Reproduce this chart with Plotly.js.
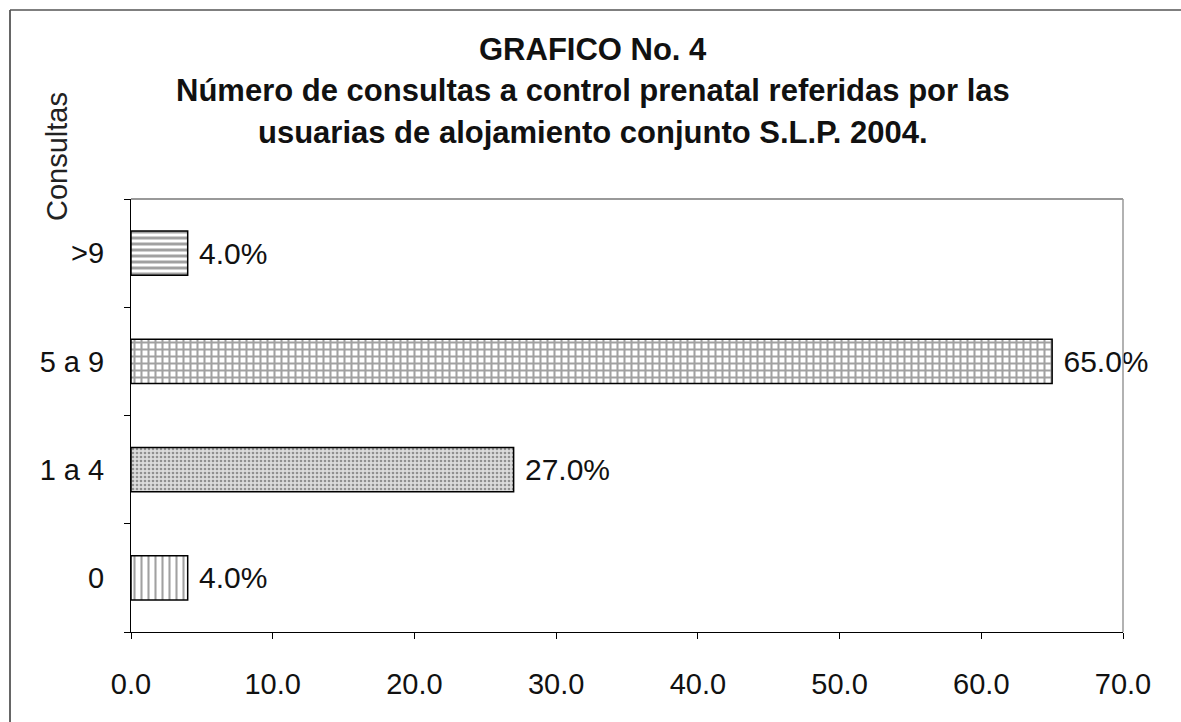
<!DOCTYPE html>
<html>
<head>
<meta charset="utf-8">
<script src="https://cdn.plot.ly/plotly-3.0.1.min.js"></script>
<style>html,body{margin:0;padding:0;background:#fff;}#chart{width:1181px;height:722px;}</style>
</head>
<body>
<div id="chart"></div>
<script>
// Data
const categories = ["0", "1 a 4", "5 a 9", ">9"];
const values = [4.0, 27.0, 65.0, 4.0];
const xTickValues = [0, 10, 20, 30, 40, 50, 60, 70];
const titleLines = [
  "GRAFICO No. 4",
  "Número de consultas a control prenatal referidas por las",
  "usuarias de alojamiento conjunto S.L.P. 2004."
];
const yTitle = "Consultas";

// Styles (per bar)
const patternShapes = ["|", ".", "+", "-"];
const barColors = ["#ffffff", "#dcdcdc", "#ffffff", "#ffffff"];
const patternFg = ["#000000", "#8a8a8a", "#000000", "#000000"];
const patternSize = [7, 4, 7, 6];
const patternSolidity = [0.3, 0.35, 0.5, 0.5];

const FONT = "Liberation Sans, Arial, sans-serif";

const trace = {
  type: "bar",
  orientation: "h",
  y: categories,
  x: values,
  width: 0.41,
  marker: {
    color: barColors,
    line: {color: "#000", width: 1.5},
    pattern: {shape: patternShapes, fgcolor: patternFg, bgcolor: barColors, size: patternSize, solidity: patternSolidity, fillmode: "overlay"}
  },
  text: values.map(v => "\u00a0" + v.toFixed(1) + "%"),
  textposition: "outside",
  cliponaxis: false,
  textfont: {family: FONT, size: 30, color: "#111"},
  hoverinfo: "skip"
};

const L = 131, R = 1123, T = 199, B = 632, W = 1181, H = 722;
const px2x = p => (p - L) / (R - L);
const py2y = p => (B - p) / (B - T);

const titleY = [49, 90, 132];
const annotations = titleLines.map((t, i) => ({
  text: "<b>" + t + "</b>", x: px2x(593), y: py2y(titleY[i]),
  xref: "paper", yref: "paper", showarrow: false, xanchor: "center", yanchor: "middle",
  font: {family: FONT, size: 31, color: "#111"}
}));
annotations.push({text: yTitle, textangle: -90, x: px2x(57), y: py2y(157), xref: "paper", yref: "paper", showarrow: false,
  xanchor: "center", yanchor: "middle", font: {family: FONT, size: 29, color: "#222"}});

const layout = {
  width: W, height: H,
  margin: {l: L, r: W - R, t: T, b: H - B, pad: 0},
  paper_bgcolor: "#fff", plot_bgcolor: "#fff",
  showlegend: false,
  xaxis: {
    range: [0, 70], tickvals: xTickValues, tickformat: ".1f",
    showgrid: false, zeroline: false, showline: true, linecolor: "#000", linewidth: 1,
    ticks: "outside", ticklen: 6, tickcolor: "#000", ticklabelstandoff: 20,
    tickfont: {family: FONT, size: 29, color: "#111"},
    fixedrange: true
  },
  yaxis: {
    type: "category", categoryorder: "array", categoryarray: categories,
    range: [-0.5, 3.5], tickson: "boundaries",
    showgrid: false, zeroline: false, showline: true, linecolor: "#000", linewidth: 1,
    ticks: "outside", ticklen: 6, tickcolor: "#000", ticklabelstandoff: 20,
    tickfont: {family: FONT, size: 29, color: "#111"},
    fixedrange: true
  },
  annotations: annotations,
  shapes: [
    {type: "line", xref: "paper", yref: "paper", x0: 0, x1: 1, y0: 1, y1: 1, line: {color: "#777", width: 1.5}},
    {type: "line", xref: "paper", yref: "paper", x0: 1, x1: 1, y0: 0, y1: 1, line: {color: "#999", width: 1.5}},
    {type: "line", xref: "paper", yref: "paper", x0: px2x(10), x1: px2x(10), y0: py2y(10), y1: py2y(722), line: {color: "#333", width: 1.5}},
    {type: "line", xref: "paper", yref: "paper", x0: px2x(10), x1: px2x(1181), y0: py2y(10), y1: py2y(10), line: {color: "#555", width: 1.5}}
  ]
};

Plotly.newPlot("chart", [trace], layout, {displayModeBar: false, staticPlot: true});
</script>
</body>
</html>
